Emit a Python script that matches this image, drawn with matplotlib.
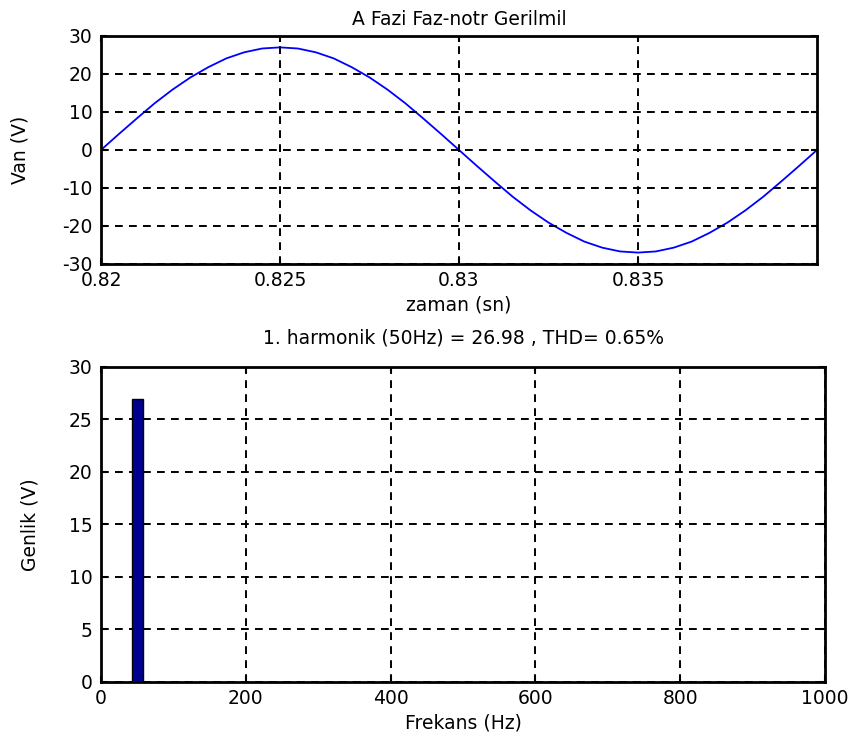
import matplotlib.pyplot as plt
import numpy as np

# Phase A voltage samples (every 0.5 ms)
t = np.arange(41) * 0.0005 + 0.82
van = [0, 4.2, 8.3, 12.3, 15.9, 19.1, 21.8, 24.1, 25.7, 26.7,
       27.0, 26.7, 25.7, 24.1, 21.8, 19.1, 15.9, 12.3, 8.3, 4.2,
       0, -4.2, -8.3, -12.3, -15.9, -19.1, -21.8, -24.1, -25.7, -26.7,
       -27.0, -26.7, -25.7, -24.1, -21.8, -19.1, -15.9, -12.3, -8.3, -4.2, 0]

# Harmonic spectrum
freq = [50]
amp = [26.98]

time_ticks = [0.82, 0.825, 0.83, 0.835]
time_labels = ['0.82', '0.825', '0.83', '0.835']
van_ticks = [-30, -20, -10, 0, 10, 20, 30]
freq_ticks = [0, 200, 400, 600, 800, 1000]
amp_ticks = [0, 5, 10, 15, 20, 25, 30]

plt.rcParams['font.family'] = ['DejaVu Sans']
plt.rcParams['font.size'] = 13.5
plt.rcParams['axes.unicode_minus'] = False

fig = plt.figure(figsize=(8.56, 7.43), dpi=100)
ax1 = fig.add_axes([0.118, 0.6447, 0.8364, 0.3069])
ax2 = fig.add_axes([0.118, 0.0821, 0.8458, 0.424])


def matlab_style(ax):
    for s in ax.spines.values():
        s.set_linewidth(2)
    ax.tick_params(direction='in', top=True, right=True, length=4, width=1.5)
    ax.tick_params(axis='x', pad=5)
    ax.tick_params(axis='y', pad=6)
    ax.grid(True, color='black', linestyle=(0, (4, 3.2)), linewidth=1.4)
    ax.set_axisbelow(False)
    ax.xaxis.label.set_va('center')
    ax.yaxis.label.set_va('center')


ax1.plot(t, van, color='blue', linewidth=1.3)
ax1.set_xlim(0.82, 0.84)
ax1.set_ylim(-30, 30)
ax1.set_xticks(time_ticks)
ax1.set_xticklabels(time_labels)
ax1.set_yticks(van_ticks)
ax1.set_title('A Fazi Faz-notr Gerilmil', fontsize=13.5, pad=8)
ax1.set_xlabel('zaman (sn)')
ax1.set_ylabel('Van (V)')
matlab_style(ax1)
ax1.xaxis.set_label_coords(0.5, -0.18)
ax1.yaxis.set_label_coords(-0.113, 0.5)

ax2.bar(freq, amp, width=15, color='#000090', edgecolor='black', linewidth=1, zorder=3)
ax2.set_xlim(0, 1000)
ax2.set_ylim(0, 30)
ax2.set_xticks(freq_ticks)
ax2.set_yticks(amp_ticks)
ax2.set_title('1. harmonik (50Hz) = 26.98 , THD= 0.65%', fontsize=13.5, pad=17)
ax2.set_xlabel('Frekans (Hz)')
ax2.set_ylabel('Genlik (V)')
matlab_style(ax2)
ax2.xaxis.set_label_coords(0.5, -0.13)
ax2.yaxis.set_label_coords(-0.098, 0.5)

fig.savefig('out.png', dpi=100)
